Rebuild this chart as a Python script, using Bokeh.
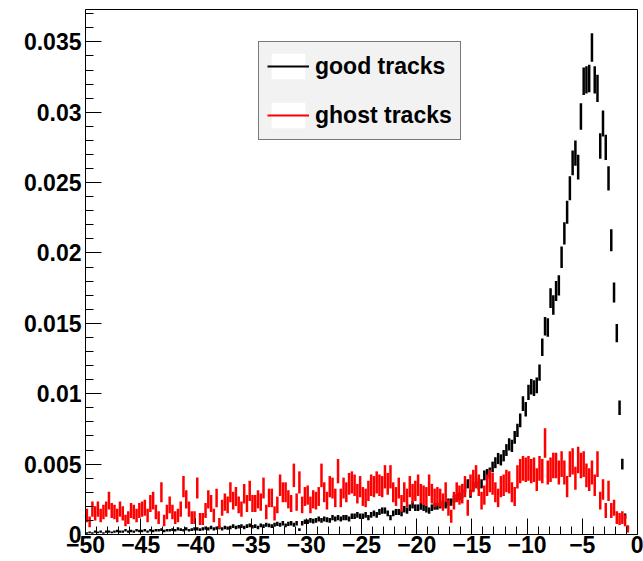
import numpy as np
from bokeh.plotting import figure
from bokeh.models import FixedTicker, Legend, LegendItem, ColumnDataSource, Range1d
from bokeh.embed import file_html
from bokeh.resources import INLINE

# histogram binning: 200 bins from -50 to 0
x_min, x_max, n_bins = -50.0, 0.0, 200

good_tracks = [
    0.0001, 0.00015, 0.0001, 0.0002, 0.00015, 0.0002, 0.0001, 0.0002, 0.0002, 0.00015,
    0.0002, 0.00025, 0.0002, 0.0002, 0.0003, 0.0002, 0.00025, 0.0002, 0.0003, 0.00025,
    0.00025, 0.0003, 0.0002, 0.0003, 0.00025, 0.0003, 0.0003, 0.00035, 0.00025, 0.0003,
    0.0003, 0.00035, 0.0003, 0.0004, 0.00035, 0.0003, 0.0004, 0.0003, 0.00035, 0.0004,
    0.0004, 0.00035, 0.0004, 0.00045, 0.0004, 0.0005, 0.0004, 0.00045, 0.0005, 0.0004,
    0.0005, 0.00045, 0.0005, 0.0006, 0.0005, 0.00055, 0.0006, 0.0005, 0.0006, 0.00065,
    0.00055, 0.0006, 0.0005, 0.00065, 0.0006, 0.0007, 0.00065, 0.0006, 0.0007, 0.00075,
    0.0007, 0.0008, 0.00065, 0.00075, 0.0008, 0.0007, 0.0008, 0.00035, 0.0008, 0.0009,
    0.0009, 0.001, 0.00095, 0.001, 0.0011, 0.001, 0.0011, 0.00105, 0.001, 0.0012,
    0.0011, 0.0012, 0.0011, 0.0012, 0.0012, 0.0011, 0.0013, 0.0013, 0.0014, 0.0013,
    0.0013, 0.0014, 0.0012, 0.0014, 0.0015, 0.0014, 0.0016, 0.0017, 0.0017, 0.0015,
    0.0012, 0.0015, 0.0016, 0.0016, 0.0015, 0.0018, 0.0017, 0.0019, 0.0021, 0.0019,
    0.0019, 0.002, 0.0019, 0.0018, 0.0017, 0.0019, 0.002, 0.002, 0.0021, 0.0022,
    0.0021, 0.0023, 0.0023, 0.0025, 0.0026, 0.0027, 0.0029, 0.0033, 0.0036, 0.0029,
    0.0034, 0.0037, 0.0035, 0.0036, 0.0042, 0.0043, 0.0044, 0.0048, 0.0051, 0.0054,
    0.0053, 0.0056, 0.006, 0.0064, 0.0063, 0.0069, 0.0074, 0.0081, 0.0093, 0.0089,
    0.0101, 0.0105, 0.0104, 0.0106, 0.0115, 0.0133, 0.0148, 0.0147, 0.0168, 0.0163,
    0.0173, 0.0177, 0.0197, 0.0214, 0.0229, 0.0246, 0.0264, 0.0271, 0.0261, 0.0297,
    0.0322, 0.0323, 0.0324, 0.0346, 0.0323, 0.0317, 0.0276, 0.0292, 0.0275, 0.0253,
    0.0209, 0.0172, 0.0143, 0.009, 0.005, 0.0013, 0.0005, 0.0, 0.0, 0.0,
]

ghost_tracks = [
    0.00135, 0.0009, 0.0018, 0.0015, 0.0018, 0.00135, 0.0016, 0.0018, 0.0024, 0.0017,
    0.0016, 0.00135, 0.0018, 0.0015, 0.001, 0.0012, 0.0017, 0.0016, 0.00135, 0.0017,
    0.0018, 0.0019, 0.00135, 0.0022, 0.0024, 0.0016, 0.0012, 0.003, 0.001, 0.0016,
    0.0021, 0.0016, 0.0012, 0.00135, 0.0018, 0.0034, 0.0025, 0.0018, 0.0012, 0.0012,
    0.0033, 0.0011, 0.0011, 0.0017, 0.0025, 0.0022, 0.00135, 0.0026, 0.0008, 0.0019,
    0.0023, 0.0021, 0.003, 0.0024, 0.0027, 0.0021, 0.0018, 0.0029, 0.0022, 0.0031,
    0.0022, 0.0022, 0.0025, 0.0023, 0.0033, 0.0016, 0.0026, 0.0026, 0.0015, 0.0021,
    0.0035, 0.003, 0.003, 0.0025, 0.0022, 0.0042, 0.0023, 0.0037, 0.0021, 0.0027,
    0.0028, 0.0021, 0.0025, 0.0024, 0.0027, 0.0042, 0.003, 0.0024, 0.0034, 0.0033,
    0.0026, 0.0045, 0.0026, 0.0033, 0.003, 0.0036, 0.0037, 0.0035, 0.0029, 0.0034,
    0.0027, 0.0026, 0.0031, 0.0035, 0.0034, 0.0037, 0.0035, 0.0034, 0.0041, 0.0036,
    0.0041, 0.003, 0.0027, 0.0033, 0.0022, 0.003, 0.0026, 0.0034, 0.0029, 0.0031,
    0.0035, 0.0029, 0.0028, 0.0027, 0.0035, 0.0029, 0.0026, 0.0027, 0.0026, 0.0023,
    0.003, 0.0019, 0.0013, 0.0024, 0.003, 0.0028, 0.0029, 0.0034, 0.0019, 0.0035,
    0.0038, 0.0041, 0.0035, 0.0024, 0.0028, 0.0035, 0.0038, 0.0036, 0.003, 0.0026,
    0.0034, 0.0035, 0.0038, 0.0037, 0.003, 0.0027, 0.0041, 0.0045, 0.0047, 0.0046,
    0.0047, 0.0045, 0.0046, 0.0039, 0.0047, 0.0045, 0.0065, 0.0044, 0.0046, 0.0049,
    0.0049, 0.0044, 0.005, 0.0044, 0.0034, 0.005, 0.0052, 0.004, 0.0053, 0.0049,
    0.005, 0.0042, 0.0039, 0.0044, 0.0035, 0.005, 0.0024, 0.0032, 0.0017, 0.0031,
    0.0017, 0.0019, 0.0012, 0.0011, 0.0012, 0.001, 0.0004, 0.0, 0.0, 0.0,
]

# effective number of entries (sets the statistical error bars sqrt(n)/N)
entries_good = 34000
entries_ghost = 6000

x_ticks = [-50, -45, -40, -35, -30, -25, -20, -15, -10, -5, 0]
x_minor = list(range(-50, 1))
y_ticks = [0, 0.005, 0.01, 0.015, 0.02, 0.025, 0.03, 0.035]
y_labels = ["0", "0.005", "0.01", "0.015", "0.02", "0.025", "0.03", "0.035"]
y_minor = [k / 1000 for k in range(0, 38)]

edges = np.linspace(x_min, x_max, n_bins + 1)
centers = 0.5 * (edges[:-1] + edges[1:])


def err_source(vals, n):
    v = np.asarray(vals, dtype=float)
    m = v > 0
    e = np.sqrt(v[m] / n)
    return ColumnDataSource(dict(x=centers[m], y0=v[m] - e, y1=v[m] + e))


FONT = "Liberation Sans"

p = figure(width=643, height=561, x_range=Range1d(-50, 0), y_range=Range1d(0, 0.0373),
           output_backend="svg", toolbar_location=None,
           min_border_left=85, min_border_right=6, min_border_top=9, min_border_bottom=27)
p.grid.visible = False
p.outline_line_color = "black"
p.outline_line_width = 1
p.background_fill_color = "white"
p.border_fill_color = "white"

p.segment(x0="x", y0="y0", x1="x", y1="y1", source=err_source(good_tracks, entries_good),
          line_color="black", line_width=2.5)
p.segment(x0="x", y0="y0", x1="x", y1="y1", source=err_source(ghost_tracks, entries_ghost),
          line_color="#ff0000", line_width=2.5)

for ax in (p.xaxis[0], p.yaxis[0]):
    ax.axis_line_color = "black"
    ax.axis_line_width = 1
    ax.major_tick_in = 16
    ax.major_tick_out = 0
    ax.minor_tick_in = 8
    ax.minor_tick_out = 0
    ax.major_tick_line_color = "black"
    ax.minor_tick_line_color = "black"
    ax.major_label_text_font = FONT
    ax.major_label_text_font_style = "bold"
    ax.major_label_text_font_size = "23px"
    ax.major_label_text_color = "black"

p.xaxis.ticker = FixedTicker(ticks=x_ticks, minor_ticks=x_minor)
p.xaxis.major_label_standoff = 1
p.yaxis.ticker = FixedTicker(ticks=y_ticks, minor_ticks=y_minor)
p.yaxis.major_label_overrides = {t: l for t, l in zip(y_ticks, y_labels)}
p.yaxis.major_label_standoff = 4

# legend-only renderers (NaN data: nothing drawn in the frame)
nan = float("nan")
bg = p.quad(left=[nan], right=[nan], top=[nan], bottom=[nan], fill_color="white", line_color=None)
lg = p.line(x=[nan], y=[nan], line_color="black", line_width=2)
lr = p.line(x=[nan], y=[nan], line_color="#ff0000", line_width=2)
legend = Legend(items=[LegendItem(label="good tracks", renderers=[bg, lg]),
                       LegendItem(label="ghost tracks", renderers=[bg, lr])],
                location=(173, 394), orientation="vertical",
                background_fill_color="#f2f2f2", background_fill_alpha=1.0,
                border_line_color="black", border_line_width=1,
                label_text_font=FONT, label_text_font_style="bold",
                label_text_font_size="23px", label_text_color="black",
                glyph_width=42, glyph_height=32, label_standoff=6,
                spacing=17, padding=8, margin=0)
p.add_layout(legend)

open("out.html", "w").write(file_html(p, INLINE))
